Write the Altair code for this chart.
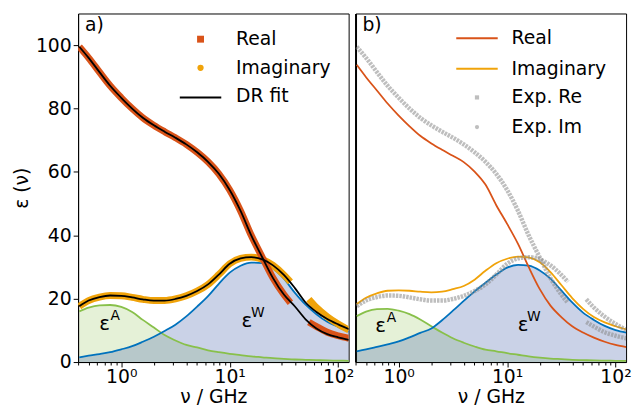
import altair as alt
import pandas as pd

FONT = "DejaVu Sans"
FS = 19

# ---------------- data ----------------
FREQ = [0.41, 0.50, 0.63, 0.79, 1.00, 1.26, 1.58, 2.00, 2.51, 3.16, 3.98, 5.01,
        6.31, 7.94, 10.0, 12.6, 15.8, 20.0, 25.1, 31.6, 39.8, 50.1, 63.1, 79.4,
        100.0, 125.9]

FREQ_EXP_LOW = [0.41, 0.50, 0.63, 0.79, 1.00, 1.26, 1.58, 2.00, 2.51, 3.16, 3.98,
                5.01, 6.31, 7.94, 10.0, 12.6, 15.8, 20.0, 25.1, 31.6, 36.3]
FREQ_EXP_HIGH = [53.7, 63.1, 79.4, 100.0, 125.9]

EXP_RE_LOW = [99.5, 96.0, 91.5, 87.2, 83.4, 80.0, 77.1, 74.7, 72.7, 70.8, 68.7,
              66.2, 63.2, 59.4, 54.3, 47.7, 40.0, 33.0, 26.5, 21.3, 18.7]
EXP_RE_HIGH = [12.6, 11.2, 9.4, 8.3, 7.5]
EXP_IM_LOW = [17.6, 19.4, 20.5, 21.0, 20.9, 20.4, 19.8, 19.4, 19.4, 19.9, 20.9,
              22.4, 24.5, 27.6, 31.0, 32.7, 33.1, 32.4, 30.5, 27.5, 25.3]
EXP_IM_HIGH = [19.8, 17.2, 14.3, 12.0, 10.1]

# panel a) : DR fit and its two components
A_FIT_RE = [99.5, 96.0, 91.5, 87.2, 83.4, 80.0, 77.1, 74.7, 72.7, 70.8, 68.7,
            66.2, 63.2, 59.4, 54.3, 47.7, 40.0, 33.0, 26.5, 21.3, 17.6, 13.5,
            10.6, 8.8, 7.8, 7.0]
A_FIT_IM = [17.6, 19.4, 20.5, 21.0, 20.9, 20.4, 19.8, 19.4, 19.4, 19.9, 20.9,
            22.4, 24.5, 27.6, 31.0, 32.7, 33.1, 32.4, 30.5, 27.5, 23.4, 18.8,
            15.8, 13.6, 11.9, 10.4]
A_EPS_A = [16.0, 17.2, 17.9, 18.0, 17.4, 15.8, 13.3, 10.9, 8.5, 6.8, 5.4, 4.6,
           3.7, 3.1, 2.6, 2.2, 1.8, 1.5, 1.2, 1.0, 0.8, 0.7, 0.6, 0.5, 0.45, 0.4]
A_EPS_W = [1.5, 2.0, 2.5, 3.1, 4.0, 5.0, 6.4, 8.0, 9.8, 11.8, 14.4, 17.5, 20.8,
           24.7, 28.2, 30.4, 31.4, 31.2, 29.5, 26.3, 21.9, 18.1, 15.1, 12.7,
           11.1, 9.6]

# panel b) : model
B_RE = [93.8, 89.9, 85.7, 81.6, 77.8, 74.4, 71.4, 69.0, 67.0, 65.1, 63.1, 60.1,
        56.0, 49.5, 43.6, 37.3, 30.0, 23.0, 17.8, 14.2, 11.3, 9.3, 7.7, 6.4,
        5.4, 4.7]
B_IM = [18.3, 20.3, 21.7, 22.5, 22.6, 22.5, 22.2, 22.0, 22.2, 23.0, 24.0, 26.0,
        28.8, 31.2, 32.6, 33.3, 33.0, 31.5, 28.4, 24.3, 20.2, 16.8, 14.2, 12.5,
        11.3, 10.3]
B_EPS_A = [14.5, 15.9, 16.7, 16.8, 16.2, 15.1, 13.4, 11.3, 9.3, 7.5, 6.1, 4.9,
           3.9, 3.4, 2.8, 2.3, 1.8, 1.4, 1.1, 0.9, 0.7, 0.6, 0.5, 0.45, 0.4, 0.35]
B_EPS_W = [3.4, 4.0, 4.8, 5.6, 6.5, 7.8, 9.2, 10.6, 13.2, 16.2, 19.3, 22.3,
           25.0, 27.6, 29.8, 30.7, 30.4, 28.9, 26.3, 22.6, 18.8, 15.6, 13.3,
           11.4, 10.1, 9.3]

# annotation anchors (GHz, value)
A_LABEL_POS = [(0.70, 12.1), (14.4, 13.0)]
B_LABEL_POS = [(0.68, 11.5), (14.0, 11.6)]

X_TICKS = [0.4, 0.5, 0.6, 0.7, 0.8, 0.9, 1, 2, 3, 4, 5, 6, 7, 8, 9,
           10, 20, 30, 40, 50, 60, 70, 80, 90, 100]
Y_TICKS = [0, 20, 40, 60, 80, 100]

# ---------------- styling ----------------
C_RE = "#D95319"
C_IM = "#F0A30A"
C_BLUE = "#0072BD"
C_GREEN = "#88C04A"
C_GRAY = "#888888"

W, H = 274, 353
MAJOR = "abs(log(datum.value)/LN10 - round(log(datum.value)/LN10)) < 0.01"


def xenc():
    return alt.X(
        "f:Q",
        scale=alt.Scale(type="log", domain=[0.4, 125], nice=False),
        axis=alt.Axis(
            values=X_TICKS,
            labelExpr="datum.value == 1 ? '10⁰' : datum.value == 10 ? '10¹' : datum.value == 100 ? '10²' : ''",
            tickSize={"condition": {"test": MAJOR, "value": 5}, "value": 3},
            title="ν / GHz",
            labelOverlap=False,
            labelFlush=False,
            grid=False,
            labelPadding=1,
            titlePadding=1,
        ),
    )


def yenc(panel):
    if panel == "a":
        ax = alt.Axis(values=Y_TICKS, title="ε (ν)", grid=False, tickSize=5,
                      labelOverlap=False, labelPadding=2, titlePadding=4)
    else:
        ax = alt.Axis(values=Y_TICKS, title=None, labels=False, ticks=False,
                      grid=False, domainColor="black", domainWidth=2)
    return alt.Y("v:Q", scale=alt.Scale(domain=[0, 110], nice=False), axis=ax)


def df(freqs, vals):
    return pd.DataFrame({"f": freqs, "v": vals})


def line(panel, freqs, vals, color, width, **kw):
    return alt.Chart(df(freqs, vals)).mark_line(
        color=color, strokeWidth=width, interpolate="monotone", clip=True, **kw
    ).encode(x=xenc(), y=yenc(panel))


def area(panel, freqs, vals, color, opacity):
    return alt.Chart(df(freqs, vals)).mark_area(
        color=color, opacity=opacity, interpolate="monotone", clip=True
    ).encode(x=xenc(), y=yenc(panel))


ONE = pd.DataFrame({"k": [0]})


def txt(s, x, y, size=FS, align="left"):
    return alt.Chart(ONE).mark_text(
        text=s, font=FONT, fontSize=size, align=align, baseline="middle",
        color="black"
    ).encode(x=alt.value(x), y=alt.value(y))


def eps_labels(panel, pos, sup):
    layers = []
    for (f, v), s in zip(pos, sup):
        d = df([f], [v])
        layers.append(alt.Chart(d).mark_text(
            text="ε", font=FONT, fontSize=20, align="center", baseline="middle",
            color="black").encode(x=xenc(), y=yenc(panel)))
        layers.append(alt.Chart(d).mark_text(
            text=s, font=FONT, fontSize=14, align="center", baseline="middle",
            color="black", dx=11, dy=-8).encode(x=xenc(), y=yenc(panel)))
    return layers


def sym(shape, x, y, color, size, opacity=1.0):
    return alt.Chart(ONE).mark_point(
        shape=shape, filled=True, color=color, size=size, opacity=opacity
    ).encode(x=alt.value(x), y=alt.value(y))


def seg(x1, x2, y, color, width):
    return alt.Chart(ONE).mark_rule(color=color, strokeWidth=width).encode(
        x=alt.value(x1), x2=alt.value(x2), y=alt.value(y))


GRAY_STYLE = dict(opacity=0.55, strokeDash=[2.5, 1])

# ---------------- panel a ----------------
panel_a = alt.layer(
    area("a", FREQ, A_EPS_A, C_GREEN, 0.22),
    area("a", FREQ, A_EPS_W, "#3f5fa8", 0.28),
    line("a", FREQ, A_EPS_A, C_GREEN, 1.8),
    line("a", FREQ, A_EPS_W, C_BLUE, 1.8),
    line("a", FREQ_EXP_LOW, EXP_IM_LOW, C_IM, 7),
    line("a", FREQ_EXP_HIGH, EXP_IM_HIGH, C_IM, 7),
    line("a", FREQ_EXP_LOW, EXP_RE_LOW, C_RE, 7),
    line("a", FREQ_EXP_HIGH, EXP_RE_HIGH, C_RE, 7),
    line("a", FREQ, A_FIT_RE, "black", 1.8),
    line("a", FREQ, A_FIT_IM, "black", 1.8),
    *eps_labels("a", A_LABEL_POS, ["A", "W"]),
    sym("square", 124, 26, C_RE, 49),
    sym("circle", 124, 55, C_IM, 40),
    seg(103, 145, 85, "black", 2),
    txt("Real", 160, 26),
    txt("Imaginary", 160, 55),
    txt("DR fit", 160, 84),
    txt("a)", 7, 12),
).properties(width=W, height=H)

# ---------------- panel b ----------------
panel_b = alt.layer(
    area("b", FREQ, B_EPS_A, C_GREEN, 0.22),
    area("b", FREQ, B_EPS_W, "#3f5fa8", 0.28),
    line("b", FREQ, B_EPS_A, C_GREEN, 1.8),
    line("b", FREQ, B_EPS_W, C_BLUE, 1.8),
    line("b", FREQ, B_RE, C_RE, 1.8),
    line("b", FREQ, B_IM, C_IM, 1.8),
    line("b", FREQ_EXP_LOW, EXP_RE_LOW, C_GRAY, 4.5, **GRAY_STYLE),
    line("b", FREQ_EXP_HIGH, EXP_RE_HIGH, C_GRAY, 4.5, **GRAY_STYLE),
    line("b", FREQ_EXP_LOW, EXP_IM_LOW, C_GRAY, 4.5, **GRAY_STYLE),
    line("b", FREQ_EXP_HIGH, EXP_IM_HIGH, C_GRAY, 4.5, **GRAY_STYLE),
    *eps_labels("b", B_LABEL_POS, ["A", "W"]),
    seg(102, 144, 25, C_RE, 2),
    seg(102, 144, 56, C_IM, 2),
    sym("square", 123, 85, C_GRAY, 18, 0.55),
    sym("circle", 123, 115, C_GRAY, 18, 0.55),
    txt("Real", 158, 25),
    txt("Imaginary", 158, 56),
    txt("Exp. Re", 158, 85),
    txt("Exp. Im", 158, 115),
    txt("b)", 7, 12),
).properties(width=W, height=H)

chart = alt.hconcat(panel_a, panel_b, spacing=0).properties(
    padding={"left": 4, "top": 2, "right": 0, "bottom": 0}
).configure_view(
    stroke="black", strokeWidth=1
).configure_axis(
    labelFont=FONT, labelFontSize=FS, titleFont=FONT, titleFontSize=FS,
    titleFontWeight="normal", labelColor="black", titleColor="black",
    tickColor="black", domainColor="black", tickWidth=1, domainWidth=1,
)

chart.save("out.html", embed_options={"renderer": "svg", "actions": False})
